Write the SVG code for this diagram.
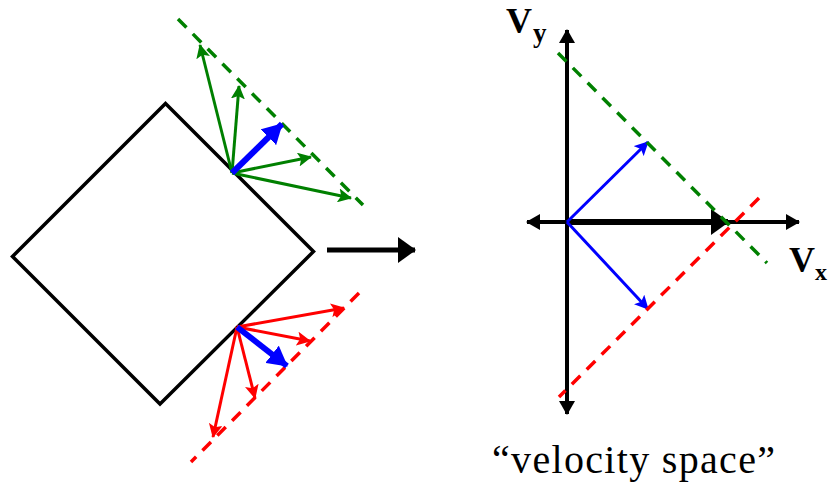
<svg xmlns="http://www.w3.org/2000/svg" width="830" height="493" viewBox="0 0 830 493">
<defs>
<style>
.g{stroke:#008000;stroke-width:3;fill:none}
.r{stroke:#ff0000;stroke-width:3;fill:none}
.b{stroke:#0000ff;stroke-width:3;fill:none}
.bb{stroke:#0000ff;stroke-width:6;fill:none}
.k{stroke:#000;stroke-width:4;fill:none}
.gd{stroke:#008000;stroke-width:3.5;stroke-dasharray:12 9;fill:none}
.rd{stroke:#ff0000;stroke-width:3.5;stroke-dasharray:12 9;fill:none}
.lbl{font-family:"Liberation Serif",serif;font-weight:bold;fill:#000}
</style>
<marker id="ag" markerUnits="userSpaceOnUse" markerWidth="14" markerHeight="14" viewBox="0 0 14 14" refX="13" refY="7" orient="auto"><path d="M0,0 L14,7 L0,14 L3,7 z" fill="#008000"/></marker>
<marker id="ar" markerUnits="userSpaceOnUse" markerWidth="14" markerHeight="14" viewBox="0 0 14 14" refX="13" refY="7" orient="auto"><path d="M0,0 L14,7 L0,14 L3,7 z" fill="#ff0000"/></marker>
<marker id="ab" markerUnits="userSpaceOnUse" markerWidth="14" markerHeight="14" viewBox="0 0 14 14" refX="13" refY="7" orient="auto"><path d="M0,0 L14,7 L0,14 L3,7 z" fill="#0000ff"/></marker>
<marker id="abb" markerUnits="userSpaceOnUse" markerWidth="20" markerHeight="22" viewBox="0 0 20 22" refX="19" refY="11" orient="auto"><path d="M0,0 L20,11 L0,22 z" fill="#0000ff"/></marker>
<marker id="ak" markerUnits="userSpaceOnUse" markerWidth="14" markerHeight="16" viewBox="0 0 14 16" refX="13" refY="8" orient="auto"><path d="M0,0 L14,8 L0,16 z" fill="#000"/></marker>
<marker id="akb" markerUnits="userSpaceOnUse" markerWidth="18" markerHeight="26" viewBox="0 0 18 26" refX="17" refY="13" orient="auto"><path d="M0,0 L18,13 L0,26 z" fill="#000"/></marker>
</defs>
<rect width="830" height="493" fill="#fff"/>

<g id="box">
<polygon points="165.5,103.5 313.5,251.5 160,404 12.5,256.5" fill="none" stroke="#000" stroke-width="3.5"/>
</g>

<g id="motion-arrow">
<line x1="327" y1="250" x2="415" y2="250" stroke="#000" stroke-width="5" marker-end="url(#akb)"/>
</g>

<g id="green-limit">
<line class="gd" x1="178" y1="19" x2="363" y2="205"/>
</g>
<g id="red-limit">
<line class="rd" x1="359" y1="293" x2="191" y2="462"/>
</g>

<g id="connectors">
<g id="green-vectors">
<line class="g" x1="232" y1="173" x2="200" y2="45" marker-end="url(#ag)"/>
<line class="g" x1="232" y1="173" x2="239" y2="86" marker-end="url(#ag)"/>
<line class="g" x1="232" y1="173" x2="311" y2="157" marker-end="url(#ag)"/>
<line class="g" x1="232" y1="173" x2="351" y2="198" marker-end="url(#ag)"/>
<line class="bb" x1="232" y1="173" x2="282" y2="124" marker-end="url(#abb)"/>
</g>
<g id="red-vectors">
<line class="r" x1="237" y1="327" x2="344" y2="308" marker-end="url(#ar)"/>
<line class="r" x1="237" y1="327" x2="310" y2="341" marker-end="url(#ar)"/>
<line class="r" x1="237" y1="327" x2="255" y2="398" marker-end="url(#ar)"/>
<line class="r" x1="237" y1="327" x2="213" y2="437" marker-end="url(#ar)"/>
<line class="bb" x1="237" y1="327" x2="287" y2="366" marker-end="url(#abb)"/>
</g>
<g id="axes">
<line class="k" x1="567" y1="222" x2="567" y2="30" marker-end="url(#ak)"/>
<line class="k" x1="567" y1="222" x2="567" y2="414" marker-end="url(#ak)"/>
<line class="k" x1="567" y1="222" x2="527" y2="222" marker-end="url(#ak)"/>
<line class="k" x1="567" y1="222" x2="799" y2="222" marker-end="url(#ak)"/>
<line x1="567" y1="222" x2="728" y2="222" stroke="#000" stroke-width="6" marker-end="url(#akb)"/>
</g>
<g id="velocity-vectors">
<line class="b" x1="567" y1="222" x2="648" y2="142" marker-end="url(#ab)"/>
<line class="b" x1="567" y1="222" x2="648" y2="309" marker-end="url(#ab)"/>
</g>
<g id="velocity-limits">
<line class="gd" x1="558" y1="53" x2="767" y2="263"/>
<line class="rd" x1="759" y1="198" x2="559" y2="397"/>
</g>
</g>

<g id="labels">
<text class="lbl" x="506" y="33" font-size="36">V<tspan font-size="27" dx="1" dy="9">y</tspan></text>
<text class="lbl" x="789" y="272" font-size="36">V<tspan font-size="24" dy="8">x</tspan></text>
<text x="492" y="473" font-family="Liberation Serif,serif" font-size="40" textLength="283" lengthAdjust="spacing" fill="#000">“velocity space”</text>
</g>
</svg>
